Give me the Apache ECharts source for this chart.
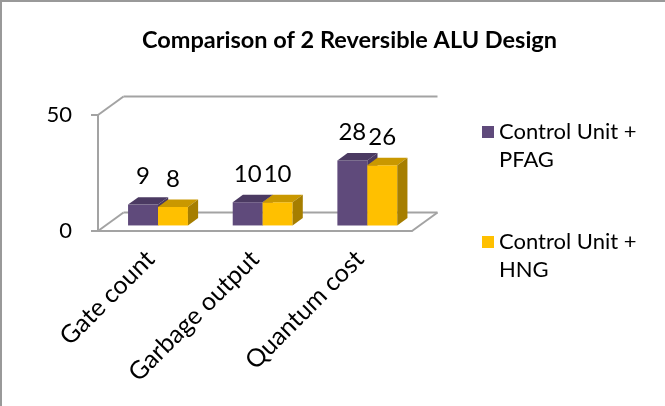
<!DOCTYPE html>
<html>
<head>
<meta charset="utf-8">
<script src="https://cdn.jsdelivr.net/npm/echarts@6/dist/echarts.min.js"></script>
<style>
html,body{margin:0;padding:0;background:#fff;}
#main{width:665px;height:406px;}
</style>
</head>
<body>
<div id="main"></div>
<script>
var titleText = 'Comparison of 2 Reversible ALU Design';
var categories = ['Gate count', 'Garbage output', 'Quantum cost'];
var seriesNames = ['Control Unit + PFAG', 'Control Unit + HNG'];
var pfagValues = [9, 10, 28];
var hngValues = [8, 10, 26];
var yTicks = [0, 50];

var FONT = 'Lato, "Open Sans", sans-serif';
var GRID_COLOR = '#a3a3a3';
var DEPTH = [25.5, -18.5];

var faceColors = [
  {front: '#5f4a7b', top: '#4b3a62', side: '#4a3960'},
  {front: '#ffc000', top: '#c99800', side: '#a67e00'}
];

function frameRender(params, api) {
  var cs = params.coordSys;
  var x0 = cs.x, x1 = cs.x + cs.width;
  var yZero = api.coord([0, yTicks[0]])[1];
  var yTop = api.coord([0, yTicks[yTicks.length - 1]])[1];
  var dx = DEPTH[0], dy = DEPTH[1];
  var st = {stroke: GRID_COLOR, lineWidth: 2, fill: null};
  function line(a, b, c, d) {
    return {type: 'line', shape: {x1: a, y1: b, x2: c, y2: d}, style: st, silent: true};
  }
  return {
    type: 'group',
    children: [
      line(x0 + dx, yTop + dy, x1 + dx, yTop + dy),
      line(x0, yTop, x0 + dx, yTop + dy),
      line(x0, yZero, x0 + dx, yZero + dy),
      line(x0 + dx, yZero + dy, x1 + dx, yZero + dy),
      line(x1, yZero, x1 + dx, yZero + dy)
    ]
  };
}

function makeBarRender(sIdx) {
  return function (params, api) {
    var idx = api.value(0);
    var val = api.value(1);
    var base = api.coord([idx, 0]);
    var top = api.coord([idx, val]);
    var band = api.size([1, 0])[0];
    var w = band * 0.286;
    var sx = DEPTH[0] * 0.3, sy = DEPTH[1] * 0.3;
    var bx = DEPTH[0] * 0.4, by = DEPTH[1] * 0.4;
    var xL = base[0] + sx + (sIdx - 1) * w;
    var yB = base[1] + sy;
    var yT = top[1] + sy;
    var c = faceColors[sIdx];
    return {
      type: 'group',
      children: [
        {type: 'rect', shape: {x: xL, y: yT, width: w, height: yB - yT}, style: {fill: c.front}},
        {type: 'polygon', shape: {points: [[xL, yT], [xL + w, yT], [xL + w + bx, yT + by], [xL + bx, yT + by]]}, style: {fill: c.top}},
        {type: 'polygon', shape: {points: [[xL + w, yT], [xL + w + bx, yT + by], [xL + w + bx, yB + by], [xL + w, yB]]}, style: {fill: c.side}},
        {type: 'text', style: {text: String(val), x: xL + w / 2, y: yT - 28, align: 'center', verticalAlign: 'middle', fill: '#000', font: '24px ' + FONT}}
      ]
    };
  };
}

var chart = echarts.init(document.getElementById('main'));
chart.setOption({
  backgroundColor: '#fff',
  animation: false,
  title: {
    text: titleText,
    left: 137, top: 23,
    textStyle: {fontFamily: FONT, fontWeight: 'bold', fontSize: 23.5, color: '#000'}
  },
  legend: {
    orient: 'vertical',
    left: 482, top: 118,
    padding: 0,
    itemWidth: 12, itemHeight: 40, itemGap: 54,
    icon: 'path://M0,0h12v12h-12z M0,40h12v0h-12z',
    data: seriesNames,
    formatter: function (n) { return n.replace(' + ', ' +\n'); },
    textStyle: {fontFamily: FONT, fontSize: 22, color: '#000', lineHeight: 28}
  },
  graphic: [
    {type: 'line', shape: {x1: 1, y1: 0, x2: 1, y2: 406}, style: {stroke: '#999', lineWidth: 2}},
    {type: 'line', shape: {x1: 0, y1: 1, x2: 665, y2: 1}, style: {stroke: '#999', lineWidth: 2}}
  ],
  grid: {left: 98, right: 253, top: 115, bottom: 175},
  xAxis: {
    type: 'category',
    data: categories,
    axisLine: {lineStyle: {color: GRID_COLOR, width: 2}},
    axisTick: {length: 7, lineStyle: {color: GRID_COLOR, width: 2}},
    axisLabel: {rotate: 45, margin: 24, fontFamily: FONT, fontSize: 25, color: '#000'}
  },
  yAxis: {
    type: 'value',
    min: 0, max: 50, interval: 50,
    axisLine: {show: true, lineStyle: {color: GRID_COLOR, width: 2}},
    axisTick: {show: true, length: 7, lineStyle: {color: GRID_COLOR, width: 2}},
    splitLine: {show: false},
    axisLabel: {margin: 26, fontFamily: FONT, fontSize: 22, color: '#000'}
  },
  series: [
    {type: 'custom', name: '_frame', renderItem: frameRender, data: [[0, 0]], silent: true, z: 1},
    {type: 'custom', name: seriesNames[0], itemStyle: {color: faceColors[0].front},
     renderItem: makeBarRender(0), data: pfagValues.map(function (v, i) { return [i, v]; }), z: 2},
    {type: 'custom', name: seriesNames[1], itemStyle: {color: faceColors[1].front},
     renderItem: makeBarRender(1), data: hngValues.map(function (v, i) { return [i, v]; }), z: 3}
  ]
});
</script>
</body>
</html>
